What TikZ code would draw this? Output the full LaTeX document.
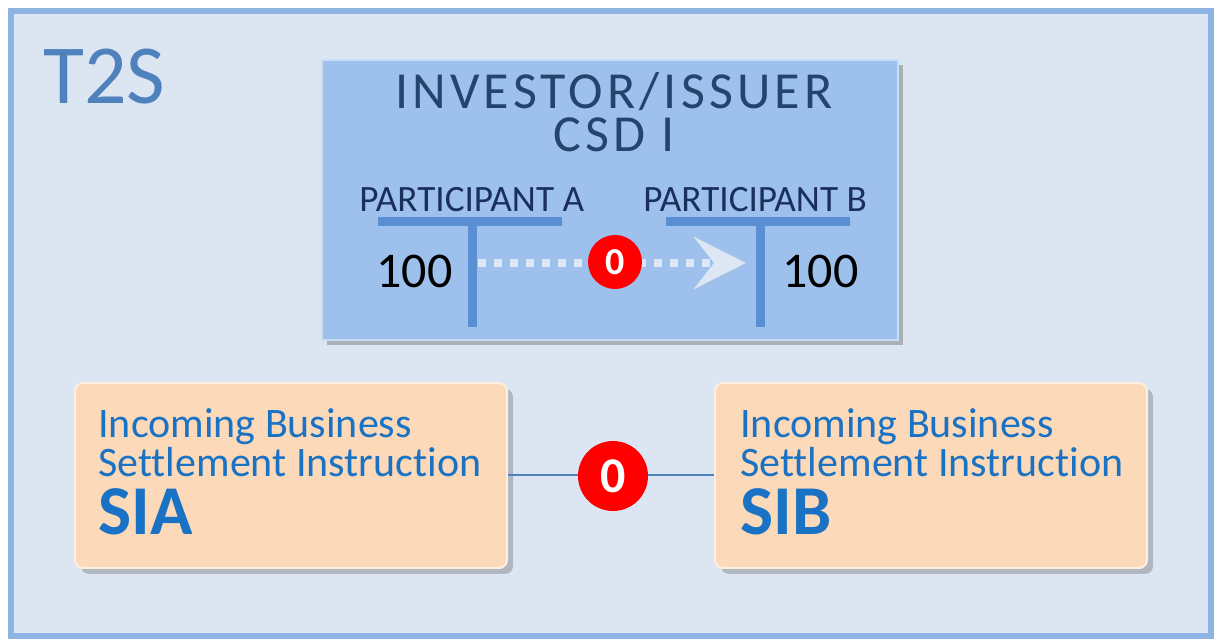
\documentclass[tikz,border=0pt]{standalone}
\usepackage{fontspec}
\setmainfont{Carlito}[Ligatures=NoCommon]
\newfontfamily\widefont[LetterSpace=8]{Carlito}
\usepackage{tikz}
\usetikzlibrary{arrows.meta,shadows}
\definecolor{framefill}{HTML}{DCE6F2}
\definecolor{frameline}{HTML}{8EB4E3}
\definecolor{tsblue}{HTML}{4F81BD}
\definecolor{csdfill}{HTML}{9DC1EC}
\definecolor{headnavy}{HTML}{24446E}
\definecolor{partnavy}{HTML}{1B2F5C}
\definecolor{barblue}{HTML}{5A8FD4}
\definecolor{peach}{HTML}{FCD9B8}
\definecolor{infoblue}{HTML}{1A72C4}
\definecolor{flowpale}{HTML}{DDE7F3}
\newcommand{\fs}[1]{\fontsize{#1}{#1}\selectfont}
\newcommand{\headfont}{\widefont\fontsize{26}{21.5}\selectfont\lineskiplimit=-20pt\relax}

\begin{document}
\begin{tikzpicture}[
  x=0.5pt,y=-0.5pt,
  frame/.style={draw=frameline,fill=framefill,line width=3pt,minimum width=600pt,minimum height=312.5pt,inner sep=0pt},
  csdbox/.style={fill=csdfill,draw=csdfill!55!white,line width=1pt,minimum width=288pt,minimum height=140pt,inner sep=0pt,
    drop shadow={shadow xshift=2.5pt,shadow yshift=-2.5pt,opacity=0.35,fill=black!70}},
  order/.style={fill=peach,draw=peach!45!white,line width=1pt,rounded corners=4pt,minimum width=216pt,minimum height=92.5pt,inner sep=0pt,
    drop shadow={shadow xshift=3pt,shadow yshift=-3pt,opacity=0.3,fill=black!70}},
  tbar/.style={draw=barblue,line width=4.5pt},
  flow/.style={draw=flowpale,line width=4pt,dash pattern=on 4pt off 4pt,
    -{Stealth[length=26pt,width=26pt,inset=10pt,fill=flowpale]}},
  link/.style={draw=tsblue,line width=1pt},
  zero/.style={circle,fill=red,text=white,inner sep=0pt,font=\bfseries},
  head/.style={text=headnavy,inner sep=0pt,align=center,font=\headfont},
  part/.style={text=partnavy,inner sep=0pt,font=\fs{18.6}},
  amt/.style={text=black,inner sep=0pt,font=\fs{25}},
  info/.style={text=infoblue,inner sep=0pt,font=\fs{21}},
  code/.style={text=infoblue,inner sep=0pt,font=\bfseries\fs{35}}]
  \useasboundingbox (0,0) rectangle (1217,641);
  % T2S platform
  \node[frame] (t2s) at (611,323.5) {};
  \node[text=tsblue,inner sep=0pt,font=\fs{42},anchor=base west] (t2slbl) at (43,104) {T2S};
  % CSD and its two accounts
  \node[csdbox] (csd) at (610,200) {};
  \node[head,anchor=north] (csdname) at (614,72) {INVESTOR/ISSUER\\CSD I};
  \node[part,anchor=base west] (parta) at (359,212) {PARTICIPANT A};
  \node[part,anchor=base west] (partb) at (643,212) {PARTICIPANT B};
  \coordinate (aL) at (378,222); \coordinate (aR) at (562,222);
  \coordinate (aT) at (472,220); \coordinate (aB) at (472,327);
  \coordinate (bL) at (666,222); \coordinate (bR) at (850,222);
  \coordinate (bT) at (760,220); \coordinate (bB) at (760,327);
  \draw[tbar] (aL) -- (aR); \draw[tbar] (aT) -- (aB);
  \draw[tbar] (bL) -- (bR); \draw[tbar] (bT) -- (bB);
  \node[amt,anchor=base west] (amta) at (376,288) {100};
  \node[amt,anchor=base west] (amtb) at (782,288) {100};
  \coordinate (flowfrom) at (478,263);
  \coordinate (flowto) at (746,263);
  \draw[flow] (flowfrom) -- (flowto);
  \node[zero,minimum size=27pt,font=\bfseries\fs{19}] (zerotop) at (615,262) {0};
  % settlement instructions
  \node[order] (sia) at (291,475.5) {};
  \node[order] (sib) at (931,475.5) {};
  \draw[link] (sia) -- (sib);
  \node[zero,minimum size=35pt,font=\bfseries\fs{25}] (zerobot) at (613,476) {0};
  \node[info,anchor=base west] (siaa) at (98,438) {Incoming Business};
  \node[info,anchor=base west] (siab) at (98,477) {Settlement Instruction};
  \node[code,anchor=base west] (siac) at (98,535) {SIA};
  \node[info,anchor=base west] (siba) at (740,438) {Incoming Business};
  \node[info,anchor=base west] (sibb) at (740,477) {Settlement Instruction};
  \node[code,anchor=base west] (sibc) at (740,535) {SIB};
\end{tikzpicture}
\end{document}
